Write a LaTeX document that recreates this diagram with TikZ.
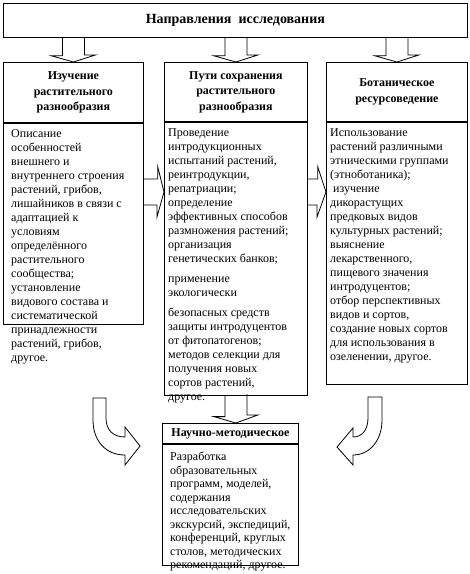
\documentclass[tikz,border=0pt]{standalone}
\usepackage{fontspec}
\setmainfont{Liberation Serif}
\usepackage{tikz}
\usetikzlibrary{positioning, calc}

\tikzset{
  frame/.style={draw=black, line width=0.8pt, inner sep=0pt, anchor=north west},
  headtext/.style={font=\bfseries\fontsize{12}{15.5}\selectfont, align=center},
  bodytext/.style={font=\fontsize{12}{14}\selectfont, align=left, anchor=north west, inner sep=0pt},
  blockarr/.style={draw=black, line width=0.8pt, line join=miter},
}

\begin{document}
\begin{tikzpicture}[x=1pt, y=-1pt]
    \useasboundingbox (0,0) rectangle (470,574);
    % Title box
    \node[frame, minimum width=464, minimum height=34, font=\bfseries\fontsize{14}{16}\selectfont] (dir) at (3,3) {Направления~~исследования};
    % Three column headers
    \node[frame, headtext, minimum width=140, minimum height=60] (studyhd) at (3,62) {Изучение\\растительного\\разнообразия};
    \node[frame, headtext, minimum width=143, minimum height=59] (keephd) at (164,62) {Пути сохранения\\растительного\\разнообразия};
    \node[frame, headtext, minimum width=141, minimum height=59] (reshd) at (326,62) {Ботаническое\\ресурсоведение};
    % Column bodies (frames only, the texts run over them)
    \node[frame, minimum width=140, minimum height=201] (studybx) at (studyhd.south west) {};
    \node[frame, minimum width=143, minimum height=273] (keepbx) at (keephd.south west) {};
    \node[frame, minimum width=141, minimum height=262] (resbx) at (reshd.south west) {};
    % Column texts
    \node[bodytext] (studytx) at ($(studybx.north west)+(8,7)$) {Описание\\
      особенностей\\
      внешнего и\\
      внутреннего строения\\
      растений, грибов,\\
      лишайников в связи с\\
      адаптацией к\\
      условиям\\
      определённого\\
      растительного\\
      сообщества;\\
      установление\\
      видового состава и\\
      систематической\\
      принадлежности\\
      растений, грибов,\\
      другое.};
    \node[bodytext] (keeptx) at ($(keepbx.north west)+(4,7)$) {Проведение\\
      интродукционных\\
      испытаний растений,\\
      реинтродукции,\\
      репатриации;\\
      определение\\
      эффективных способов\\
      размножения растений;\\
      организация\\
      генетических банков;\\[6pt]
      применение\\
      экологически\\[6pt]
      безопасных средств\\
      защиты интродуцентов\\
      от фитопатогенов;\\
      методов селекции для\\
      получения новых\\
      сортов растений,\\
      другое.};
    \node[bodytext] (restx) at ($(resbx.north west)+(4,7)$) {Использование\\
      растений различными\\
      этническими группами\\
      (этноботаника);\\
      \ изучение\\
      дикорастущих\\
      предковых видов\\
      культурных растений;\\
      выяснение\\
      лекарственного,\\
      пищевого значения\\
      интродуцентов;\\
      отбор перспективных\\
      видов и сортов,\\
      создание новых сортов\\
      для использования в\\
      озеленении, другое.};
    % Bottom box
    \node[frame, headtext, minimum width=136, minimum height=20] (methodhd) at (162,423) {Научно-методическое};
    \node[frame, minimum width=136, minimum height=121] (methodbx) at (methodhd.south west) {};
    \node[bodytext, font=\fontsize{12}{13.5}\selectfont] (methodtx) at ($(methodbx.north west)+(8,8)$) {Разработка\\
      образовательных\\
      программ, моделей,\\
      содержания\\
      исследовательских\\
      экскурсий, экспедиций,\\
      конференций, круглых\\
      столов, методических\\
      рекомендаций, другое.};
    % Block arrows from the title down to the columns
    \foreach \c in {studyhd, keephd, reshd} {
      \draw[blockarr] ($(dir.south -| \c.north)+(-11,0)$) -- ++(0,18) -- ++(-11,0)
        -- (\c.north) -- ++(22,-7) -- ++(-11,0) -- ++(0,-18);
    }
    % Side arrows between the columns
    \coordinate (sidey) at (0,192);
    \draw[blockarr] ($(studybx.east |- sidey)+(0,-13)$) -- ++(14,0) -- ++(0,-12)
      -- (keepbx.west |- sidey) -- ++(-7,25) -- ++(0,-12) -- ++(-14,0);
    \draw[blockarr] ($(keepbx.east |- sidey)+(0,-13)$) -- ++(10,0) -- ++(0,-12)
      -- (resbx.west |- sidey) -- ++(-9,25) -- ++(0,-12) -- ++(-10,0);
    % Arrow from the middle column to the bottom box
    \draw[blockarr] ($(keepbx.south)+(-11,0)$) -- ++(0,21) -- ++(-11,0)
      -- (keepbx.south |- methodhd.north) -- ++(22,-8) -- ++(-11,0) -- ++(0,-21);
    % Bent arrows on both sides of the bottom box
    \draw[blockarr] (93,398) -- (106,398) -- (106,418)
      .. controls (106,430) and (113,437) .. (125,437) -- (125,427) -- (140,446)
      -- (125,465) -- (125,455) .. controls (105,455) and (93,440) .. (93,420) -- cycle;
    \draw[blockarr] (382,397) -- (368,397) -- (368,418)
      .. controls (368,430) and (362,437) .. (353,437) -- (353,428) -- (337,447)
      -- (353,465) -- (353,455) .. controls (370,455) and (382,440) .. (382,420) -- cycle;
\end{tikzpicture}
\end{document}
